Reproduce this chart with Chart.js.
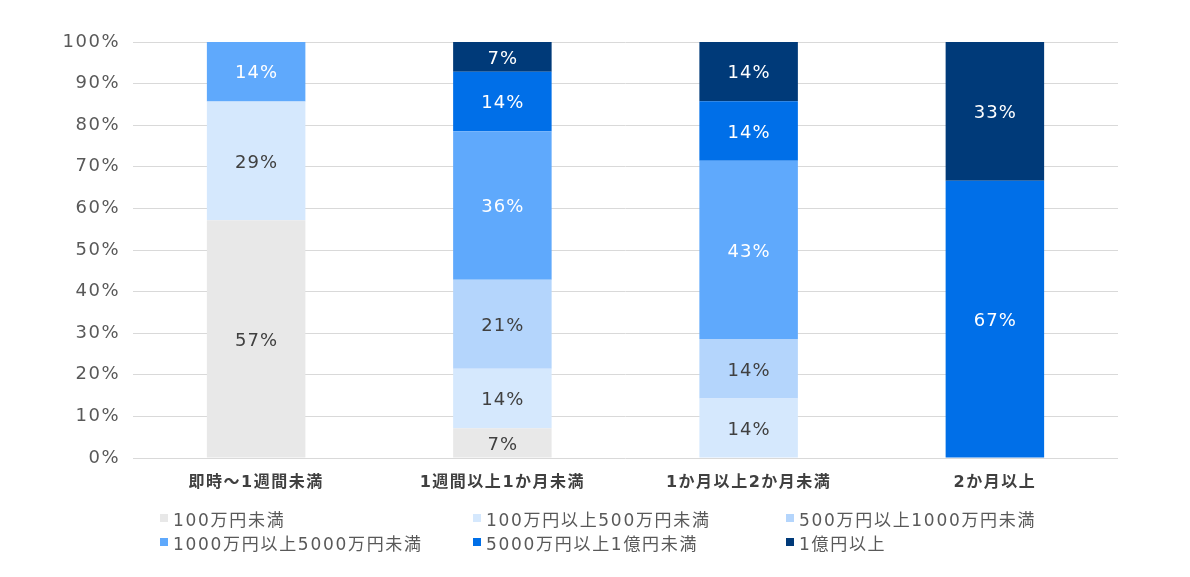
<!DOCTYPE html>
<html>
<head>
<meta charset="utf-8">
<script src="https://cdn.jsdelivr.net/npm/chart.js@4"></script>
<style>
  body { margin: 0; background: #fff; }
  #wrap { position: relative; width: 1190px; height: 577px; }
  #legend { position: absolute; left: 160px; top: 507px; width: 960px;
    display: grid; grid-template-columns: 313px 313px 320px; row-gap: 2px;
    font-family: "DejaVu Sans", "Noto Sans CJK JP", sans-serif; font-size: 17px;
    letter-spacing: 1.7px; color: #595959; }
  #legend div { display: flex; align-items: center; height: 22px; white-space: nowrap; }
  #legend span.box { display: inline-block; width: 8px; height: 8px; margin-right: 5px; }
</style>
</head>
<body>
<div id="wrap">
  <canvas id="chart" width="1190" height="577"></canvas>
  <div id="legend"></div>
</div>
<script>
const categories = ['即時～1週間未満', '1週間以上1か月未満', '1か月以上2か月未満', '2か月以上'];
const seriesNames = ['100万円未満', '100万円以上500万円未満', '500万円以上1000万円未満',
  '1000万円以上5000万円未満', '5000万円以上1億円未満', '1億円以上'];
const seriesColors = ['#e8e8e8', '#d5e8fd', '#b4d5fc', '#5fa9fc', '#006fe8', '#003a79'];
const labelColors = ['#404040', '#404040', '#404040', '#ffffff', '#ffffff', '#ffffff'];

// percent per category, one array per series
const under100 = [57.14, 7.14, 0, 0];
const from100to500 = [28.57, 14.29, 14.29, 0];
const from500to1000 = [0, 21.43, 14.29, 0];
const from1000to5000 = [14.29, 35.71, 42.86, 0];
const from5000to1oku = [0, 14.29, 14.29, 66.67];
const over1oku = [0, 7.14, 14.29, 33.33];
const seriesValues = [under100, from100to500, from500to1000, from1000to5000, from5000to1oku, over1oku];
const yTicks = [0, 10, 20, 30, 40, 50, 60, 70, 80, 90, 100];

const font = '"DejaVu Sans", "Noto Sans CJK JP", sans-serif';

// axis text is a bit spaced out in the original
const spacing = {
  id: 'spacing',
  beforeDraw(chart) { chart.ctx.letterSpacing = '1.5px'; }
};

const barLabels = {
  id: 'barLabels',
  afterDatasetsDraw(chart) {
    const ctx = chart.ctx;
    ctx.save();
    ctx.letterSpacing = '1px';
    ctx.font = '18px ' + font;
    ctx.textAlign = 'center';
    ctx.textBaseline = 'middle';
    chart.data.datasets.forEach((ds, i) => {
      chart.getDatasetMeta(i).data.forEach((bar, j) => {
        const v = ds.data[j];
        if (!v) return;
        ctx.fillStyle = labelColors[i];
        ctx.fillText(Math.round(v) + '%', bar.x + 0.5, (bar.y + bar.base) / 2 + 2);
      });
    });
    ctx.restore();
  }
};

new Chart(document.getElementById('chart'), {
  type: 'bar',
  data: {
    labels: categories,
    datasets: seriesNames.map((name, i) => ({
      label: name,
      data: seriesValues[i],
      backgroundColor: seriesColors[i],
      borderWidth: 0,
      categoryPercentage: 1,
      barPercentage: 0.4
    }))
  },
  options: {
    responsive: false,
    animation: false,
    layout: { padding: { left: 41, right: 72, top: 42, bottom: 82 } },
    plugins: {
      legend: { display: false },
      tooltip: { enabled: false }
    },
    scales: {
      x: {
        stacked: true,
        grid: { display: false },
        border: { display: false },
        ticks: { color: '#404040', font: { family: font, size: 16, weight: 'bold' }, padding: 7 },
        afterFit: s => { s.height = 37; }
      },
      y: {
        stacked: true,
        min: 0,
        max: 100,
        afterBuildTicks: s => { s.ticks = yTicks.map(v => ({ value: v })); },
        grid: { color: '#d9d9d9', drawTicks: false },
        border: { display: false },
        ticks: { color: '#595959', font: { family: font, size: 18 }, padding: 13,
          callback: v => v + '%' },
        afterFit: s => { s.width = 92; }
      }
    }
  },
  plugins: [spacing, barLabels]
});

const legend = document.getElementById('legend');
seriesNames.forEach((name, i) => {
  const item = document.createElement('div');
  item.innerHTML = '<span class="box" style="background:' + seriesColors[i] + '"></span>' + name;
  legend.appendChild(item);
});
</script>
</body>
</html>
